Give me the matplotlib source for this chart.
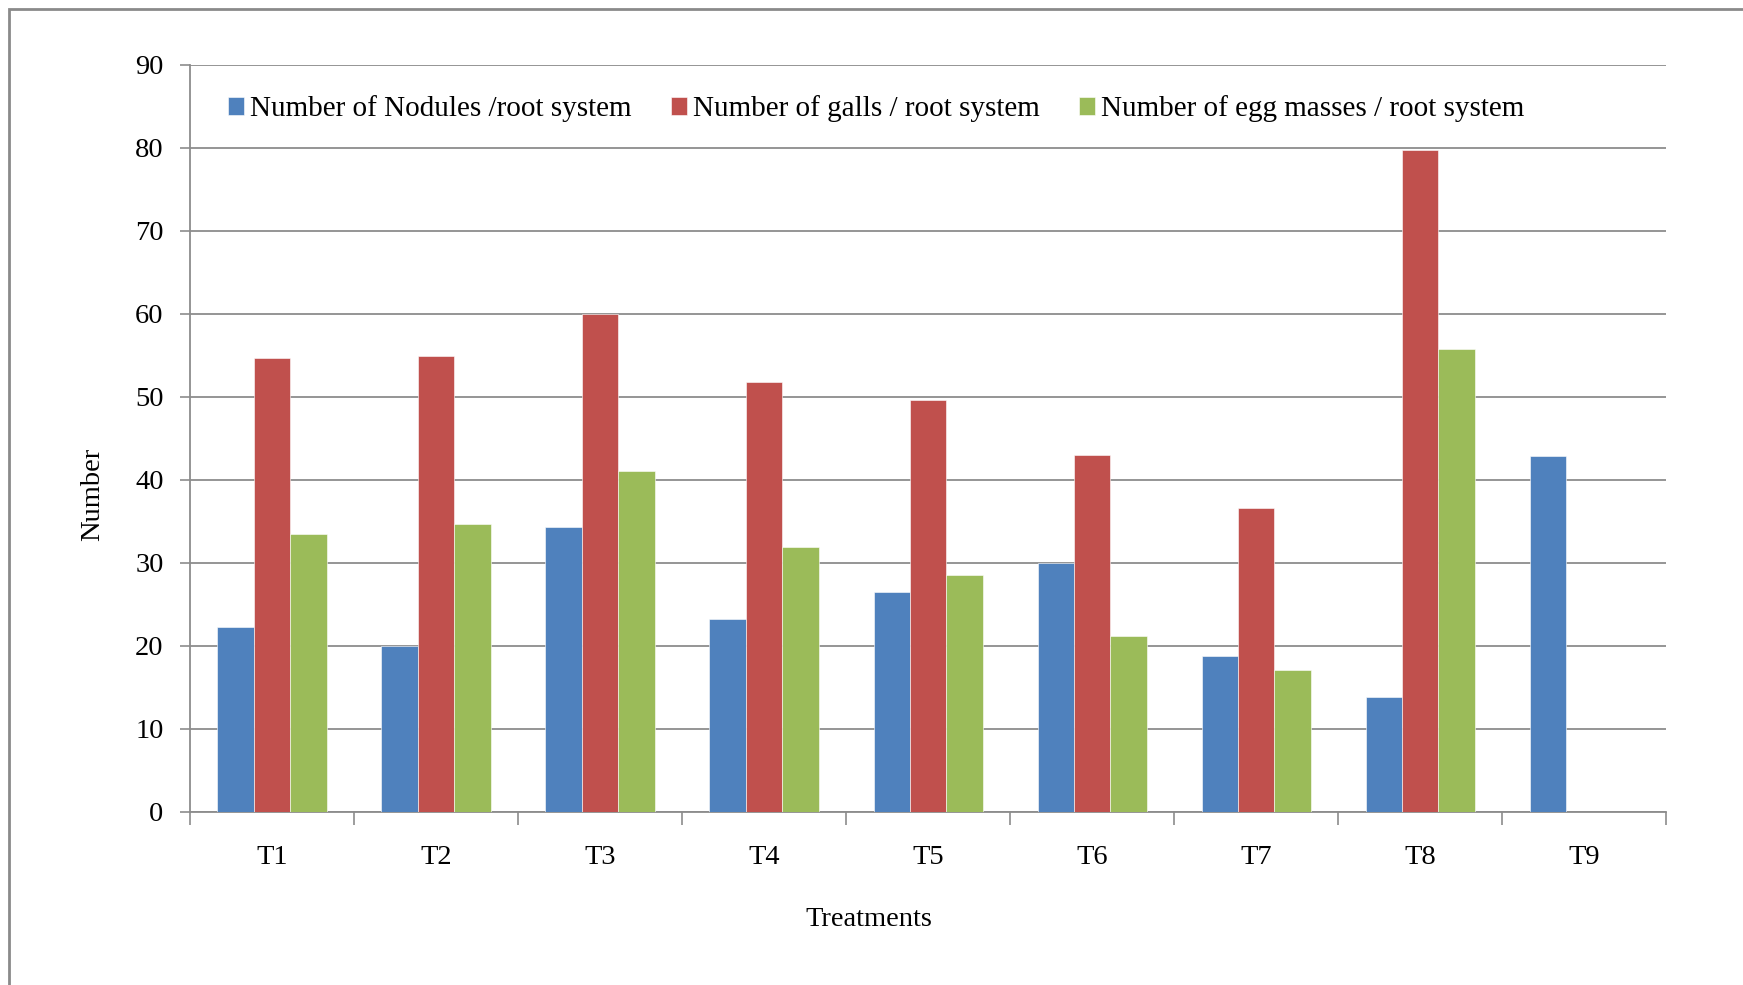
import matplotlib

matplotlib.use("Agg")
import matplotlib.pyplot as plt
import numpy as np
from matplotlib.patches import Rectangle

treatments = ["T1", "T2", "T3", "T4", "T5", "T6", "T7", "T8", "T9"]
nodules = [22.2, 20.0, 34.3, 23.2, 26.5, 30.0, 18.7, 13.8, 42.9]
galls = [54.6, 54.9, 59.9, 51.8, 49.6, 43.0, 36.6, 79.7, 0]
egg_masses = [33.5, 34.7, 41.0, 31.9, 28.5, 21.2, 17.1, 55.7, 0]

series_labels = [
    "Number of Nodules /root system",
    "Number of galls / root system",
    "Number of egg masses / root system",
]
colors = ["#4F81BD", "#C0504D", "#9BBB59"]
GRID = "#8c8c8c"
FS = 20.5

plt.rcParams.update({"font.family": ["Liberation Serif", "DejaVu Serif"], "font.size": FS})

fig = plt.figure(figsize=(17.43, 9.85), dpi=100)
ax = fig.add_axes([0.109, 0.176, 0.847, 0.7585])

x = np.arange(len(treatments))
w = 0.222
for k, (vals, lab, col) in enumerate(zip([nodules, galls, egg_masses], series_labels, colors)):
    ax.bar(x + (k - 1) * w, vals, w, color=col, label=lab, zorder=3,
           edgecolor="white", linewidth=0.4)

ax.set_xlim(-0.5, len(treatments) - 0.5)
ax.set_ylim(0, 90)
ax.set_yticks(range(0, 91, 10))
ax.yaxis.grid(True, color=GRID, linewidth=1.3, zorder=0)
ax.set_axisbelow(True)

# category labels sit between the boundary ticks
ax.set_xticks(x)
ax.set_xticklabels(treatments)
ax.tick_params(axis="x", length=0, pad=24)
ax.set_xticks(np.arange(-0.5, len(treatments)), minor=True)
ax.tick_params(axis="x", which="minor", length=9, color=GRID, width=1.2)
ax.tick_params(axis="y", length=7, color=GRID, width=1.2, pad=12)

for side in ["top", "right"]:
    ax.spines[side].set_visible(False)
for side in ["left", "bottom"]:
    ax.spines[side].set_color(GRID)
    ax.spines[side].set_linewidth(1.3)

fig.text(0.053, 0.498, "Number", rotation=90, ha="center", va="center", fontsize=FS)
fig.text(0.4985, 0.067, "Treatments", ha="center", va="center", fontsize=FS)

ax.legend(loc="upper left", bbox_to_anchor=(0.008, 0.994), ncol=3, frameon=False,
          handlelength=0.55, handleheight=0.55, handletextpad=0.2, columnspacing=1.35,
          fontsize=21)

# chart area border (runs off the right and bottom edges)
fig.patches.append(Rectangle((9 / 1743, -0.1), 1.2, 0.1 + 1 - 9 / 985, transform=fig.transFigure,
                             fill=False, edgecolor="#8a8a8a", linewidth=2))

fig.savefig("out.png", dpi=100)
